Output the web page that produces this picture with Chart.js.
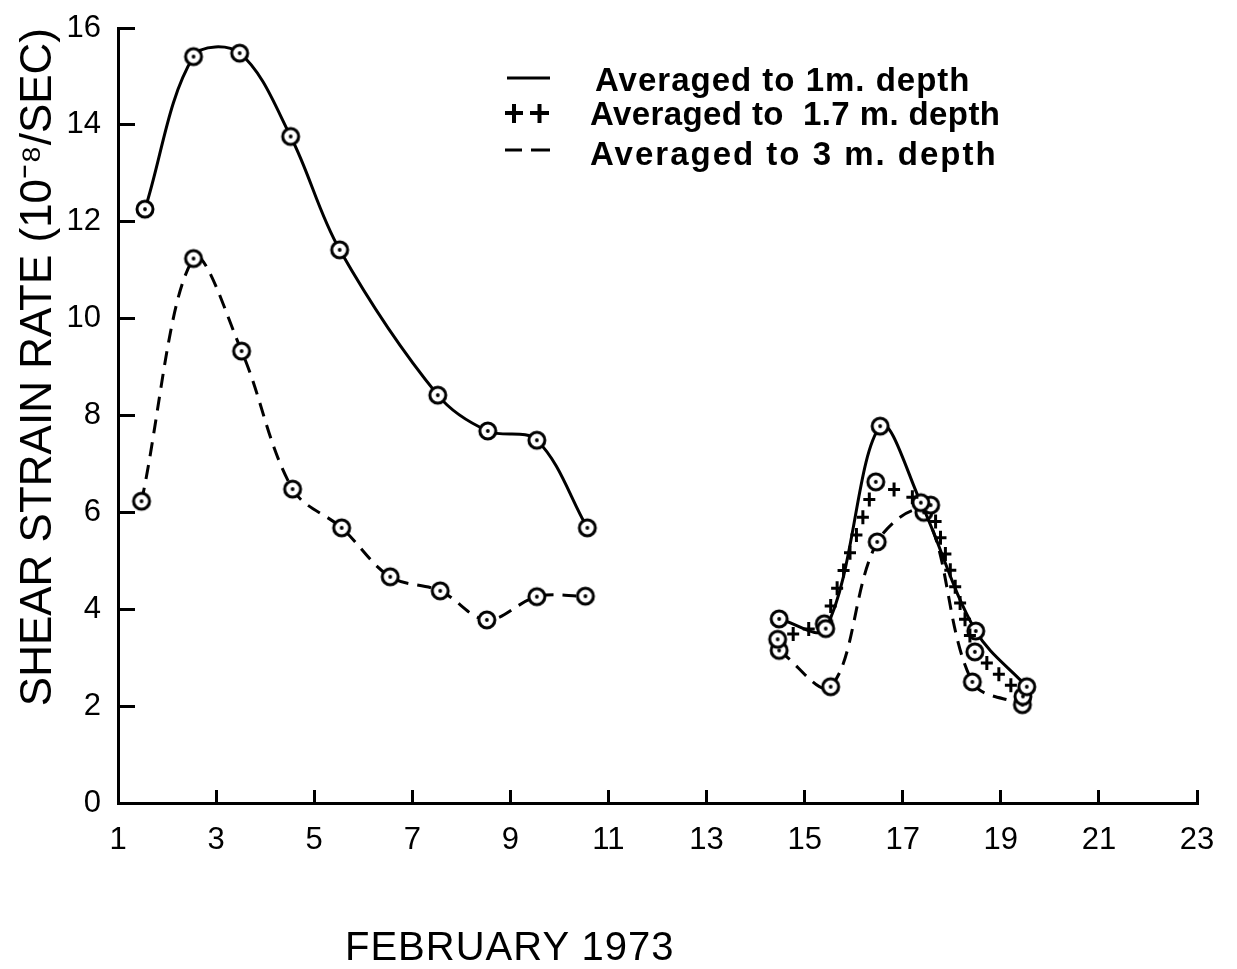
<!DOCTYPE html>
<html>
<head>
<meta charset="utf-8">
<script src="https://cdn.jsdelivr.net/npm/chart.js@4/dist/chart.umd.min.js"></script>
<style>
  html, body { margin: 0; padding: 0; background: #fff; }
  #wrap { position: relative; width: 1237px; height: 969px; overflow: hidden; }
  #c { position: absolute; left: 0; top: 0; }
  .leg { position: absolute; font-family: "Liberation Sans", Arial, sans-serif; font-weight: bold; font-size: 33px; color: #000; white-space: pre; line-height: 1; }
  .sym { position: absolute; }
  #xtitle { position: absolute; left: 345px; top: 926px; font-family: "Liberation Sans", Arial, sans-serif; font-size: 40px; color: #000; white-space: pre; letter-spacing: 1px; line-height: 1; }
</style>
</head>
<body>
<div id="wrap">
  <canvas id="c" width="1237" height="969"></canvas>
  <svg class="sym" style="left:500px;top:60px" width="60" height="110">
    <line x1="7" y1="18" x2="50" y2="18" stroke="#000" stroke-width="3"/>
    <g stroke="#000" stroke-width="4">
      <line x1="5" y1="53" x2="23" y2="53"/><line x1="14" y1="44" x2="14" y2="63"/>
      <line x1="30" y1="53" x2="49" y2="53"/><line x1="39.5" y1="44" x2="39.5" y2="63"/>
    </g>
    <line x1="5" y1="90" x2="22" y2="90" stroke="#000" stroke-width="3"/>
    <line x1="31" y1="90" x2="50" y2="90" stroke="#000" stroke-width="3"/>
  </svg>
  <div class="leg" id="l1" style="left:595px;top:63px;letter-spacing:1px">Averaged to 1m. depth</div>
  <div class="leg" id="l2" style="left:590px;top:97px;letter-spacing:0.4px">Averaged to  1.7 m. depth</div>
  <div class="leg" id="l3" style="left:590px;top:137px;letter-spacing:2px">Averaged to 3 m. depth</div>
  <div id="xtitle">FEBRUARY 1973</div>
</div>
<script>
// ---- data ----
const xTickValues = [1, 3, 5, 7, 9, 11, 13, 15, 17, 19, 21, 23];
const yTickStep = 2;

// Averaged to 1 m depth (solid)
const days1m   = [1.55, 2.54, 3.48, 4.52, 5.52, 7.52, 8.54, 9.54, 10.57, null, 14.48, 15.43, 16.54, 17.37, 18.49, 19.53];
const rate1m   = [12.26, 15.41, 15.48, 13.76, 11.42, 8.42, 7.68, 7.49, 5.68, null, 3.80, 3.60, 7.78, 6.20, 3.55, 2.40];

// Averaged to 1.7 m depth (crosses)
const days17m  = [14.45, 15.40, 16.45, 17.57, 18.47, 19.45];
const rate17m  = [3.38, 3.70, 6.63, 6.15, 3.12, 2.20];

// Averaged to 3 m depth (dashed)
const days3m   = [1.48, 2.54, 3.52, 4.56, 5.56, 6.55, 7.57, 8.52, 9.54, 10.53, null, 14.48, 15.53, 16.48, 17.43, 18.42, 19.44];
const rate3m   = [6.23, 11.24, 9.33, 6.48, 5.68, 4.67, 4.38, 3.78, 4.26, 4.27, null, 3.15, 2.40, 5.39, 6.00, 2.50, 2.03];

const toPoints = (xs, ys) => xs.map((x, i) => (x === null ? { x: 12, y: null } : { x: x, y: ys[i] }));

// circled-dot marker
function makeMarker() {
  const s = 24, m = document.createElement('canvas');
  m.width = s; m.height = s;
  const g = m.getContext('2d');
  g.beginPath(); g.arc(s / 2, s / 2, 8, 0, Math.PI * 2);
  g.fillStyle = '#fff'; g.fill();
  g.lineWidth = 3; g.strokeStyle = '#000'; g.stroke();
  g.beginPath(); g.arc(s / 2, s / 2, 1.9, 0, Math.PI * 2);
  g.fillStyle = '#000'; g.fill();
  return m;
}
const marker = makeMarker();

const crossPlugin = {
  id: 'crossLine',
  afterDatasetsDraw(chart) {
    const meta = chart.getDatasetMeta(1);
    const pts = meta.data;
    const ctx = chart.ctx;
    ctx.save();
    ctx.strokeStyle = '#000';
    ctx.lineWidth = 3;
    for (let i = 0; i < pts.length - 1; i++) {
      const a = pts[i], b = pts[i + 1];
      if (!a || !b || a.skip || b.skip) continue;
      const dx = b.x - a.x, dy = b.y - a.y;
      const d = Math.hypot(dx, dy);
      const n = Math.max(1, Math.round(d / 18));
      for (let k = 1; k < n; k++) {
        const t = k / n;
        if (d * t < 12 || d * (1 - t) < 12) continue;
        const cx = a.x + dx * t, cy = a.y + dy * t;
        ctx.beginPath();
        ctx.moveTo(cx - 6, cy); ctx.lineTo(cx + 6, cy);
        ctx.moveTo(cx, cy - 7); ctx.lineTo(cx, cy + 7);
        ctx.stroke();
      }
    }
    ctx.restore();
  }
};

const tickFont = { family: '"Liberation Sans", Arial, sans-serif', size: 31 };

new Chart(document.getElementById('c'), {
  type: 'line',
  data: {
    datasets: [
      {
        label: 'Averaged to 1m. depth',
        data: toPoints(days1m, rate1m),
        borderColor: '#000', borderWidth: 3, tension: 0.35, spanGaps: false,
        pointStyle: marker, pointRadius: 9
      },
      {
        label: 'Averaged to 1.7 m. depth',
        data: toPoints(days17m, rate17m),
        showLine: false, borderColor: '#000', borderWidth: 0, tension: 0,
        pointStyle: marker, pointRadius: 9
      },
      {
        label: 'Averaged to 3 m. depth',
        data: toPoints(days3m, rate3m),
        borderColor: '#000', borderWidth: 3, borderDash: [14, 9], tension: 0.35, spanGaps: false,
        pointStyle: marker, pointRadius: 9
      }
    ]
  },
  plugins: [crossPlugin],
  options: {
    responsive: false,
    devicePixelRatio: 1,
    animation: false,
    layout: { padding: { top: 28, right: 40, bottom: 0, left: 0 } },
    plugins: { legend: { display: false }, tooltip: { enabled: false } },
    scales: {
      x: {
        type: 'linear', min: 1, max: 23,
        afterBuildTicks(scale) { scale.ticks = xTickValues.map(v => ({ value: v })); },
        afterFit(scale) { scale.height = 166; scale.paddingLeft = 0; scale.paddingRight = 0; },
        ticks: { font: tickFont, color: '#000', padding: 32, maxRotation: 0, autoSkip: false },
        grid: { drawOnChartArea: false, drawTicks: true, tickLength: -13, tickWidth: 3, color: '#000' },
        border: { display: true, color: '#000', width: 3 }
      },
      y: {
        min: 0, max: 16,
        afterFit(scale) { scale.width = 118; scale.paddingTop = 0; scale.paddingBottom = 0; },
        ticks: { stepSize: yTickStep, font: tickFont, color: '#000', padding: 34 },
        grid: { drawOnChartArea: false, drawTicks: true, tickLength: -17, tickWidth: 3, color: '#000' },
        border: { display: true, color: '#000', width: 3 },
        title: {
          display: true, text: 'SHEAR STRAIN RATE (10\u207B\u2078/SEC)', align: 'end', color: '#000',
          font: { family: '"Liberation Sans", Arial, sans-serif', size: 44 },
          padding: { top: 12, bottom: 0 }
        }
      }
    }
  }
});
</script>
</body>
</html>
